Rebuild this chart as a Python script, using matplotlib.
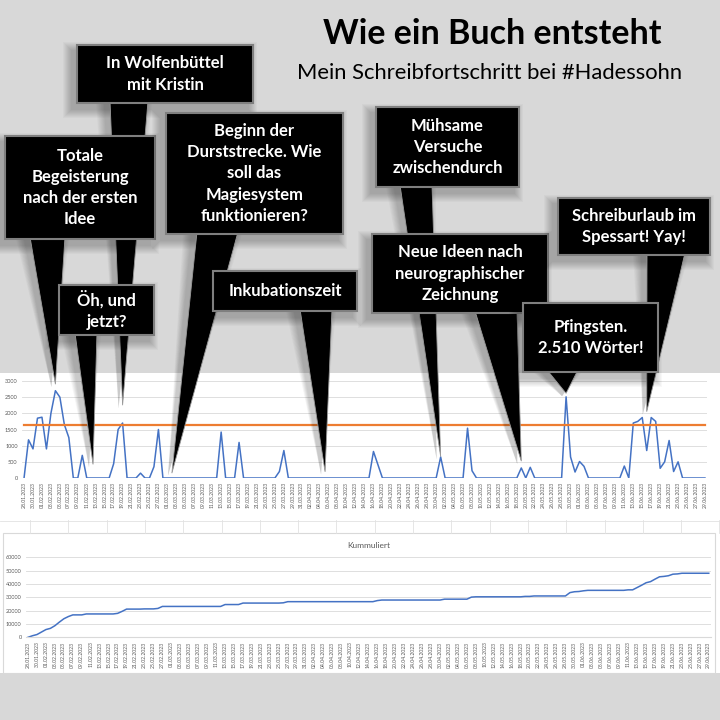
import numpy as np
import pandas as pd
import matplotlib
matplotlib.use("Agg")
import matplotlib.pyplot as plt
from matplotlib.patches import Rectangle, Polygon

plt.rcParams['font.family'] = ['Lato', 'DejaVu Sans']

# Woerter pro Tag, 28.01.2023 - 29.06.2023
dates = pd.date_range("2023-01-28", "2023-06-29", freq="D")
jan = [0, 1180, 900, 1850]
feb = [1880, 900, 2000, 2700, 2500, 1650, 1250, 0, 0, 700,
       0, 0, 0, 0, 0, 0, 440, 1500, 1700, 0,
       0, 0, 150, 0, 0, 350, 1500, 0]
mar = [0, 0, 0, 0, 0, 0, 0, 0, 0, 0,
       0, 0, 1420, 0, 0, 0, 1100, 0, 0, 0,
       0, 0, 0, 0, 0, 200, 850, 0, 0, 0,
       0]
apr = [0, 0, 0, 0, 0, 0, 0, 0, 0, 0,
       0, 0, 0, 0, 0, 820, 410, 0, 0, 0,
       0, 0, 0, 0, 0, 0, 0, 0, 0, 0]
may = [650, 0, 0, 0, 0, 0, 1540, 225, 0, 0,
       0, 0, 0, 0, 0, 0, 0, 0, 310, 0,
       330, 0, 0, 0, 0, 0, 0, 0, 2510, 650,
       185]
jun = [510, 360, 0, 0, 0, 0, 0, 0, 0, 0,
       370, 0, 1700, 1750, 1870, 850, 1870, 1750, 300, 500,
       1160, 200, 500, 0, 0, 0, 0, 0, 0]
words = np.array(jan + feb + mar + apr + may + jun)
target = 1650
cumulative = np.cumsum(words)

labels = [d.strftime("%d.%m.%Y") for d in dates]
x = np.arange(len(dates))

# Sprechblasen: Text, Box (px), Basis des Zeigers (px), Ziel (Tag, Woerter)
callouts = [
    ("In Wolfenbüttel\nmit Kristin", (77, 45, 253, 103), (110, 148), (22, 2250)),
    ("Totale\nBegeisterung\nnach der ersten\nIdee", (5, 136, 155, 239), (30, 65), (7, 2900)),
    ("Öh, und\njetzt?", (59, 285, 154, 335), (75, 97), (15.4, 420)),
    ("Beginn der\nDurststrecke. Wie\nsoll das\nMagiesystem\nfunktionieren?", (166, 113, 343, 234), (197, 238), (33, 150)),
    ("Inkubationszeit", (213, 271, 357, 311), (300, 332), (67.2, 190)),
    ("Mühsame\nVersuche\nzwischendurch", (376, 107, 519, 187), (400, 432), (93, 660)),
    ("Neue Ideen nach\nneurographischer\nZeichnung", (372, 234, 548, 313), (475, 517), (111, 520)),
    ("Schreiburlaub im\nSpessart! Yay!", (558, 198, 710, 255), (647, 685), (139, 2050)),
    ("Pfingsten.\n2.510 Wörter!", (523, 303, 658, 372), (547, 578), (121, 2620)),
]

W = H = 720
fig = plt.figure(figsize=(7.2, 7.2), dpi=100)


def fpos(left, top, right, bottom):
    return [left / W, 1 - bottom / H, (right - left) / W, (bottom - top) / H]


# Hintergrund mit Tabellenblatt
bg = fig.add_axes([0, 0, 1, 1], zorder=0)
bg.set_xlim(0, W)
bg.set_ylim(H, 0)
bg.axis("off")
bg.add_patch(Rectangle((0, 0), W, H, fc="#d8d8d8", ec="none"))
bg.add_patch(Rectangle((0, 373), W, 300, fc="white", ec="none"))
for gx in np.arange(30, W, 38.3):
    bg.plot([gx, gx], [520, 533], color="#e2e2e2", lw=0.6)
bg.plot([0, W], [521, 521], color="#e2e2e2", lw=0.6)
bg.add_patch(Rectangle((3, 533), 712, 140, fc="white", ec="#d9d9d9", lw=0.8))

grey = "#595959"

# Woerter pro Tag
ax1 = fig.add_axes(fpos(21.8, 381, 707.2, 478), zorder=1)
ax1.patch.set_visible(False)
ax1.plot(x, words, color="#4472C4", lw=1.1)
ax1.plot(x, [target] * len(x), color="#ED7D31", lw=1.6)
ax1.set_xlim(-0.5, len(x) - 0.5)
ax1.set_ylim(0, 3000)
ax1.set_yticks(np.arange(0, 3001, 500))
ax1.set_xticks(x[::2])
ax1.set_xticklabels(labels[::2], rotation=90, fontsize=3.7, color=grey)
ax1.tick_params(axis="y", labelsize=4, colors=grey, length=0, pad=3)
ax1.tick_params(axis="x", length=0, pad=3)
ax1.grid(axis="y", color="#d9d9d9", lw=0.6)
ax1.set_axisbelow(True)
for s in ax1.spines.values():
    s.set_visible(False)

# Kummuliert
ax2 = fig.add_axes(fpos(25.8, 557.3, 711, 637.3), zorder=1)
ax2.patch.set_visible(False)
ax2.plot(x, cumulative, color="#4472C4", lw=1.1)
ax2.set_xlim(-0.5, len(x) - 0.5)
ax2.set_ylim(0, 60000)
ax2.set_yticks(np.arange(0, 60001, 10000))
ax2.set_xticks(x[::2])
ax2.set_xticklabels(labels[::2], rotation=90, fontsize=3.7, color=grey)
ax2.tick_params(axis="y", labelsize=4, colors=grey, length=0, pad=3)
ax2.tick_params(axis="x", length=0, pad=3)
ax2.grid(axis="y", color="#d9d9d9", lw=0.6)
ax2.set_axisbelow(True)
for s in ax2.spines.values():
    s.set_visible(False)
ax2.spines["bottom"].set_visible(True)
ax2.spines["bottom"].set_color("#d9d9d9")
ax2.set_title("Kummuliert", fontsize=6, color=grey, pad=7)

# Ueberlagerung fuer Titel und Sprechblasen
ov = fig.add_axes([0, 0, 1, 1], zorder=2)
ov.patch.set_visible(False)
ov.set_xlim(0, W)
ov.set_ylim(H, 0)
ov.axis("off")

ov.text(492, 34, "Wie ein Buch entsteht", ha="center", va="center",
        fontsize=24.5, fontweight="bold", color="black")
ov.text(490, 73, "Mein Schreibfortschritt bei #Hadessohn", ha="center",
        va="center", fontsize=15.8, color="black")

to_ov = ov.transData.inverted()
for i, (txt, box, base, tip) in enumerate(callouts):
    x0, y0, x1, y1 = box
    tx, ty = to_ov.transform(ax1.transData.transform(tip))
    z = 10 + i
    tail = [(base[0], y1 - 2), (base[1], y1 - 2), (tx, ty)]
    for k in range(1, 10):
        ov.add_patch(Rectangle((x0 - 5 - k, y0 + 6 - k), (x1 - x0) + 2 * k,
                               (y1 - y0) + 2 * k, fc="black", alpha=0.028,
                               ec="none", zorder=z))
        ov.add_patch(Polygon([(base[0] - 5 - k, y1), (base[1] - 5 + k, y1),
                              (tx - 4, ty + 3)], fc="black", alpha=0.022,
                             ec="none", zorder=z))
    ov.add_patch(Polygon(tail, fc="black", ec="#9a9a9a", lw=0.6, zorder=z + 0.1))
    ov.add_patch(Rectangle((x0, y0), x1 - x0, y1 - y0, fc="black",
                           ec="#7f7f7f", lw=1.5, zorder=z + 0.2))
    ov.text((x0 + x1) / 2, (y0 + y1) / 2, txt, ha="center", va="center",
            color="white", fontsize=12, fontweight="bold", linespacing=1.4,
            zorder=z + 0.3)

fig.savefig("out.png", dpi=100)
